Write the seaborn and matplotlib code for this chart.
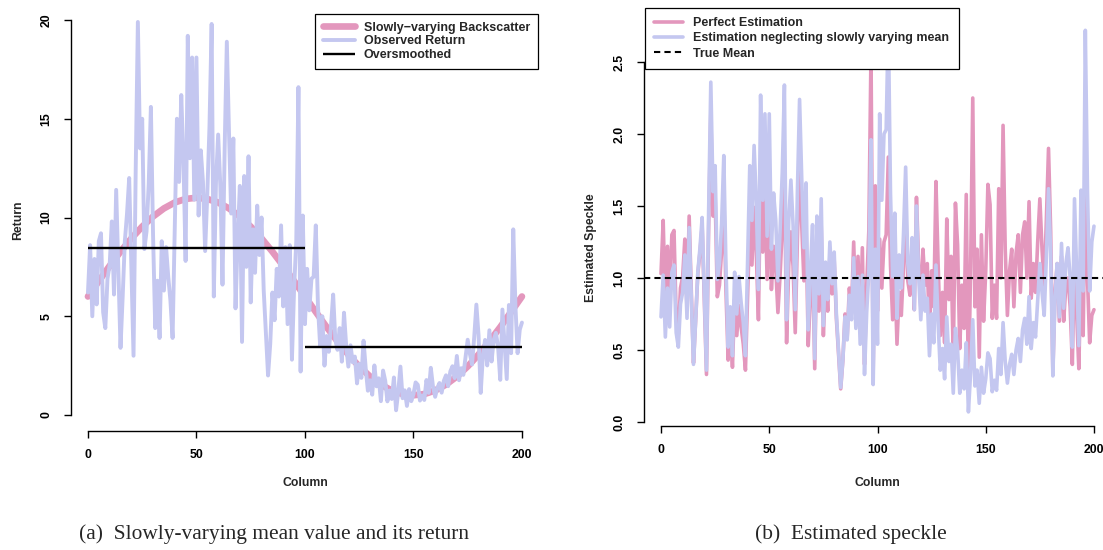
import numpy as np
import matplotlib
matplotlib.use("Agg")
import matplotlib.pyplot as plt
import seaborn as sns

# ---- data ----

column = np.arange(201)   # column index 0..200

observed_return = [
    6.2, 8.6, 5.0, 7.9, 5.6, 8.8, 9.2, 5.2, 4.4, 6.9,
    7.6, 9.8, 6.1, 11.4, 7.3, 3.4, 6.0, 8.8, 10.2, 12.0,
    7.5, 3.0, 12.4, 19.9, 13.5, 15.0, 8.4, 9.3, 11.7, 15.6,
    9.1, 4.4, 6.8, 3.9, 8.8, 6.3, 8.5, 7.0, 5.8, 3.9,
    9.5, 15.0, 11.8, 16.2, 12.9, 7.8, 19.2, 13.0, 18.1, 10.9,
    18.1, 10.1, 13.4, 11.8, 8.3, 11.2, 14.6, 19.8, 6.0, 11.8,
    14.2, 11.6, 6.6, 13.5, 18.9, 14.3, 10.2, 14.0, 5.4, 8.9,
    11.6, 3.7, 12.1, 7.5, 13.1, 5.7, 9.4, 7.2, 10.6, 8.1,
    10.0, 6.3, 4.1, 2.0, 3.6, 6.2, 4.8, 7.4, 6.0, 9.6,
    5.5, 8.5, 4.6, 8.6, 2.8, 6.4, 8.8, 16.6, 2.2, 10.1,
    4.6, 7.4, 5.3, 6.9, 7.0, 9.6, 5.5, 3.5, 5.0, 2.5,
    4.0, 3.2, 4.5, 6.1, 3.8, 3.3, 4.4, 2.7, 5.18, 3.51,
    2.45, 3.53, 2.67, 2.96, 1.60, 2.58, 1.88, 3.76, 2.37, 1.23,
    1.76, 1.03, 2.51, 1.45, 1.86, 0.70, 2.25, 1.73, 0.69, 1.24,
    0.81, 1.90, 0.24, 1.18, 2.45, 0.85, 1.25, 0.46, 1.31, 0.70,
    1.05, 1.65, 1.53, 0.73, 0.99, 0.76, 1.77, 1.12, 2.39, 1.44,
    0.92, 1.37, 1.62, 1.13, 1.73, 2.01, 1.46, 2.21, 2.47, 1.87,
    2.99, 1.76, 2.37, 2.03, 2.94, 3.81, 3.10, 2.56, 3.93, 5.59,
    4.04, 1.12, 2.99, 3.80, 2.51, 4.29, 2.71, 3.81, 4.16, 3.45,
    1.78, 5.34, 3.57, 1.82, 5.57, 3.13, 9.40, 5.53, 3.13, 4.32,
    4.68,
]

perfect_estimation = [
    1.03, 1.40, 0.79, 1.22, 0.85, 1.30, 1.33, 0.73, 0.61, 0.93,
    1.01, 1.27, 0.78, 1.43, 0.90, 0.41, 0.71, 1.03, 1.18, 1.36,
    0.84, 0.33, 1.35, 2.14, 1.43, 1.57, 0.87, 0.95, 1.19, 1.57,
    0.91, 0.43, 0.67, 0.38, 0.85, 0.60, 0.81, 0.66, 0.54, 0.36,
    0.88, 1.39, 1.09, 1.49, 1.18, 0.71, 1.75, 1.18, 1.65, 0.99,
    1.65, 0.92, 1.22, 1.07, 0.76, 1.02, 1.34, 1.82, 0.55, 1.09,
    1.32, 1.08, 0.62, 1.27, 1.80, 1.37, 0.98, 1.36, 0.53, 0.88,
    1.15, 0.37, 1.23, 0.77, 1.36, 0.60, 1.00, 0.77, 1.15, 0.89,
    1.12, 0.72, 0.47, 0.23, 0.43, 0.75, 0.59, 0.93, 0.77, 1.25,
    0.73, 1.15, 0.64, 1.21, 0.40, 0.94, 1.33, 2.57, 0.35, 1.64,
    0.77, 1.27, 0.93, 1.25, 1.30, 1.84, 1.09, 0.71, 1.05, 0.54,
    0.90, 0.74, 1.08, 1.52, 0.98, 0.88, 1.23, 0.78, 1.56, 1.10,
    0.80, 1.20, 0.95, 1.10, 0.62, 1.05, 0.80, 1.67, 1.10, 0.60,
    0.90, 0.55, 1.41, 0.85, 1.15, 0.45, 1.52, 1.23, 0.51, 0.95,
    0.65, 1.58, 0.21, 1.05, 2.25, 0.80, 1.20, 0.45, 1.30, 0.70,
    1.05, 1.65, 1.51, 0.72, 0.95, 0.72, 1.62, 1.00, 2.06, 1.20,
    0.74, 1.05, 1.20, 0.80, 1.17, 1.30, 0.90, 1.30, 1.39, 1.00,
    1.53, 0.86, 1.10, 0.90, 1.25, 1.55, 1.20, 0.95, 1.40, 1.90,
    1.32, 0.35, 0.90, 1.10, 0.70, 1.15, 0.70, 0.95, 1.00, 0.80,
    0.40, 1.16, 0.75, 0.37, 1.10, 0.60, 1.75, 1.00, 0.55, 0.74,
    0.78,
]

neglecting_mean = [
    0.73, 1.02, 0.59, 0.93, 0.66, 1.04, 1.09, 0.62, 0.52, 0.82,
    0.90, 1.16, 0.72, 1.35, 0.86, 0.40, 0.71, 1.04, 1.21, 1.42,
    0.89, 0.36, 1.47, 2.36, 1.60, 1.78, 0.99, 1.10, 1.38, 1.85,
    1.08, 0.52, 0.80, 0.46, 1.04, 0.75, 1.01, 0.83, 0.69, 0.46,
    1.12, 1.78, 1.40, 1.92, 1.53, 0.92, 2.27, 1.54, 2.14, 1.29,
    2.14, 1.20, 1.59, 1.40, 0.98, 1.33, 1.73, 2.34, 0.71, 1.40,
    1.68, 1.37, 0.78, 1.60, 2.24, 1.69, 1.21, 1.66, 0.64, 1.05,
    1.37, 0.44, 1.43, 0.89, 1.55, 0.67, 1.11, 0.85, 1.25, 0.96,
    1.18, 0.75, 0.49, 0.24, 0.43, 0.73, 0.57, 0.88, 0.71, 1.14,
    0.65, 1.01, 0.54, 1.02, 0.33, 0.76, 1.04, 1.96, 0.26, 1.20,
    0.54, 2.14, 1.54, 2.00, 2.03, 2.78, 1.59, 1.01, 1.45, 0.72,
    1.16, 0.93, 1.30, 1.77, 1.10, 0.96, 1.28, 0.78, 1.50, 1.02,
    0.71, 1.02, 0.77, 0.86, 0.46, 0.75, 0.55, 1.09, 0.69, 0.36,
    0.51, 0.30, 0.73, 0.42, 0.54, 0.20, 0.65, 0.50, 0.20, 0.36,
    0.23, 0.55, 0.07, 0.34, 0.71, 0.25, 0.36, 0.13, 0.38, 0.20,
    0.30, 0.48, 0.44, 0.21, 0.29, 0.22, 0.51, 0.33, 0.69, 0.42,
    0.27, 0.40, 0.47, 0.33, 0.50, 0.58, 0.42, 0.64, 0.72, 0.54,
    0.87, 0.51, 0.69, 0.59, 0.85, 1.10, 0.90, 0.74, 1.14, 1.62,
    1.17, 0.32, 0.87, 1.10, 0.73, 1.24, 0.79, 1.10, 1.21, 1.00,
    0.52, 1.55, 1.03, 0.53, 1.61, 0.91, 2.72, 1.60, 0.91, 1.25,
    1.36,
]

# slowly varying backscatter, every 5th column
mean_column = np.arange(0, 201, 5)
slowly_varying = [
    6.00, 6.78, 7.55, 8.27, 8.94, 9.54, 10.05, 10.46, 10.76, 10.94,
    11.00, 10.94, 10.76, 10.46, 10.05, 9.54, 8.94, 8.27, 7.55, 6.78,
    6.00, 5.22, 4.45, 3.73, 3.06, 2.46, 1.95, 1.54, 1.24, 1.06,
    1.00, 1.06, 1.24, 1.54, 1.95, 2.46, 3.06, 3.73, 4.45, 5.22,
    6.00,
]

# oversmoothed estimate: two flat pieces
oversmooth_from = [0, 100]
oversmooth_to = [100, 200]
oversmooth_level = [8.45, 3.45]

true_mean = 1.0

x_ticks = [0, 50, 100, 150, 200]
left_yticks = [0, 5, 10, 15, 20]
right_yticks = [0.0, 0.5, 1.0, 1.5, 2.0, 2.5]

pink = "#E397BD"
lavender = "#C4C7F0"

# ---- style ----
sns.set_style("ticks")
plt.rcParams["font.family"] = ["Liberation Sans", "DejaVu Sans"]
plt.rcParams["font.weight"] = "bold"

W, H = 1103, 550
fig = plt.figure(figsize=(W / 100, H / 100), dpi=100)

def fx(px):
    return px / W

def fy(py):
    return 1 - py / H

ax1 = fig.add_axes([fx(70.6), fy(430.8), 468.7 / W, 426.6 / H])
ax2 = fig.add_axes([fx(643.7), fy(426.3), 467.6 / W, 414.7 / H])

# left panel -------
sns.lineplot(x=mean_column, y=slowly_varying, ax=ax1, color=pink, linewidth=4.8,
             label="Slowly\u2212varying Backscatter")
sns.lineplot(x=column, y=observed_return, ax=ax1, color=lavender, linewidth=2.8,
             label="Observed Return")
ax1.hlines(oversmooth_level, oversmooth_from, oversmooth_to, color="black",
           linewidth=1.7, label="Oversmoothed", zorder=5)

# right panel -------
sns.lineplot(x=column, y=perfect_estimation, ax=ax2, color=pink, linewidth=2.6,
             label="Perfect Estimation")
sns.lineplot(x=column, y=neglecting_mean, ax=ax2, color=lavender, linewidth=2.6,
             label="Estimation neglecting slowly varying mean")
ax2.axhline(true_mean, color="black", linewidth=1.5, linestyle=(0, (3, 2)),
            label="True Mean", zorder=5)


def r_axes(ax, ylim, yticks, ylabels):
    ax.set_xlim(-8, 208)
    ax.set_ylim(*ylim)
    ax.set_xticks(x_ticks)
    ax.set_xticklabels([str(t) for t in x_ticks])
    ax.set_yticks(yticks)
    ax.set_yticklabels(ylabels, rotation=90, va="center")
    ax.spines["top"].set_visible(False)
    ax.spines["right"].set_visible(False)
    ax.spines["left"].set_bounds(yticks[0], yticks[-1])
    ax.spines["bottom"].set_bounds(0, 200)
    for s in ["left", "bottom"]:
        ax.spines[s].set_linewidth(1.0)
        ax.spines[s].set_color("black")
    ax.tick_params(length=5, width=1.0, pad=8, labelsize=8.8, colors="black")
    ax.set_xlabel("")
    ax.set_ylabel("")
    ax.patch.set_alpha(0)


r_axes(ax1, (-0.8, 20.8), left_yticks, [str(t) for t in left_yticks])
r_axes(ax2, (-0.03, 2.85), right_yticks, [f"{t:.1f}" for t in right_yticks])

leg_font = {"size": 9, "weight": "bold"}
h1, l1 = ax1.get_legend_handles_labels()
leg1 = ax1.legend(h1, l1, loc="upper left", bbox_to_anchor=(fx(315), fy(14)),
                  bbox_transform=fig.transFigure, prop=leg_font, frameon=True,
                  fancybox=False, framealpha=1, edgecolor="black",
                  handlelength=2.6, handletextpad=0.7, labelspacing=0.15,
                  borderpad=0.6, borderaxespad=0)
leg1.get_frame().set_linewidth(0.9)

h2, l2 = ax2.get_legend_handles_labels()
leg2 = ax2.legend(h2, l2, loc="upper left", bbox_to_anchor=(fx(645), fy(8)),
                  bbox_transform=fig.transFigure, prop=leg_font, frameon=True,
                  fancybox=False, framealpha=1, edgecolor="black",
                  handlelength=2.3, handletextpad=0.8, labelspacing=0.25,
                  borderpad=0.75, borderaxespad=0)
leg2.get_frame().set_linewidth(0.9)

# axis titles
fig.text(fx(305), fy(483), "Column", ha="center", va="center", fontsize=8.8, weight="bold")
fig.text(fx(877), fy(483), "Column", ha="center", va="center", fontsize=8.8, weight="bold")
fig.text(fx(18), fy(220), "Return", ha="center", va="center", rotation=90,
         fontsize=8.8, weight="bold")
fig.text(fx(591), fy(248), "Estimated Speckle", ha="center", va="center", rotation=90,
         fontsize=8.8, weight="bold")

# sub-captions
fig.text(fx(274), fy(534), "(a)  Slowly-varying mean value and its return", ha="center",
         va="center", fontsize=15.4, family="Liberation Serif", weight="normal")
fig.text(fx(851), fy(534), "(b)  Estimated speckle", ha="center",
         va="center", fontsize=15.4, family="Liberation Serif", weight="normal")

fig.savefig("out.png", dpi=100)
